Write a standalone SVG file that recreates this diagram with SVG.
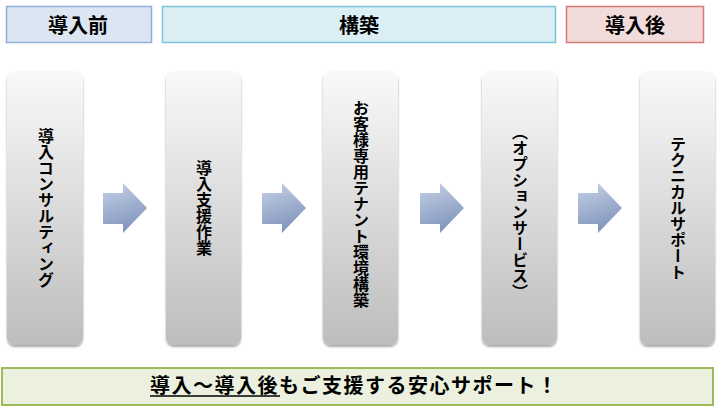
<svg xmlns="http://www.w3.org/2000/svg" width="720" height="413" viewBox="0 0 720 413">
<defs>
  <linearGradient id="boxGrad" x1="0" y1="0" x2="0" y2="1">
    <stop offset="0" stop-color="#f9f9f9"/>
    <stop offset="1" stop-color="#bdbdbd"/>
  </linearGradient>
  <linearGradient id="arrowGrad" x1="0" y1="0" x2="0.3" y2="1">
    <stop offset="0" stop-color="#c5d2e7"/>
    <stop offset="1" stop-color="#8396bd"/>
  </linearGradient>
  <filter id="shadow" x="-20%" y="-10%" width="140%" height="120%">
    <feGaussianBlur in="SourceAlpha" stdDeviation="1.2"/>
    <feOffset dx="0" dy="1.5" result="b"/>
    <feComponentTransfer><feFuncA type="linear" slope="0.35"/></feComponentTransfer>
    <feMerge><feMergeNode/><feMergeNode in="SourceGraphic"/></feMerge>
  </filter>
</defs>
<style>
  .hdr { font-family: "Noto Sans CJK JP", "Noto Sans", sans-serif; font-weight: bold; font-size: 20px; fill: #000; text-anchor: middle; dominant-baseline: central; }
  .box { fill: url(#boxGrad); filter: url(#shadow); }
  .vt { font-family: "Noto Sans CJK JP", "Noto Sans", sans-serif; font-weight: bold; font-size: 16px; fill: #000; writing-mode: vertical-rl; text-anchor: middle; }
  .arrow { fill: url(#arrowGrad); }
  .foot { font-family: "Noto Sans CJK JP", "Noto Sans", sans-serif; font-weight: bold; font-size: 20px; fill: #000; letter-spacing: 1.5px; }
</style>

<g id="header-before">
  <rect x="6.5" y="6.5" width="145" height="36" fill="#dce6f2" stroke="#8eaedb" stroke-width="1.5"/>
  <text class="hdr" x="78" y="24.5">導入前</text>
</g>
<g id="header-build">
  <rect x="162.5" y="6.5" width="393" height="36" fill="#dbeef4" stroke="#79c4da" stroke-width="1.5"/>
  <text class="hdr" x="359" y="24.5">構築</text>
</g>
<g id="header-after">
  <rect x="566.5" y="6.5" width="137" height="36" fill="#f2dcdb" stroke="#d77a78" stroke-width="1.5"/>
  <text class="hdr" x="635" y="24.5">導入後</text>
</g>

<g id="step1">
  <rect class="box" x="7" y="71" width="76" height="274" rx="8"/>
  <text class="vt" x="46" y="208">導入コンサルティング</text>
</g>
<g id="step2">
  <rect class="box" x="166" y="71" width="75" height="274" rx="8"/>
  <text class="vt" x="204" y="208">導入支援作業</text>
</g>
<g id="step3">
  <rect class="box" x="323" y="71" width="75" height="274" rx="8"/>
  <text class="vt" x="361" y="204">お客様専用テナント環境構築</text>
</g>
<g id="step4">
  <rect class="box" x="482" y="71" width="75" height="274" rx="8"/>
  <text class="vt" x="520" y="212">（オプションサービス）</text>
</g>
<g id="step5">
  <rect class="box" x="640" y="71" width="75" height="274" rx="8"/>
  <text class="vt" x="678" y="208">テクニカルサポート</text>
</g>

<g id="connectors">
  <path class="arrow" d="M103,193 H123 V183 L147,208 L123,233 V224 H103 Z"/>
  <path class="arrow" d="M262,193 H282 V183 L306,208 L282,233 V224 H262 Z"/>
  <path class="arrow" d="M420,193 H440 V183 L464,208 L440,233 V224 H420 Z"/>
  <path class="arrow" d="M578,193 H598 V183 L622,208 L598,233 V224 H578 Z"/>
</g>

<g id="footer">
  <rect x="2" y="368" width="711" height="37" fill="#ebf1de" stroke="#9bbb59" stroke-width="2"/>
  <text class="foot" x="150" y="393">導入～導入後もご支援する安心サポート！</text>
  <line x1="150" y1="396" x2="280" y2="396" stroke="#000" stroke-width="1.5"/>
</g>
</svg>
